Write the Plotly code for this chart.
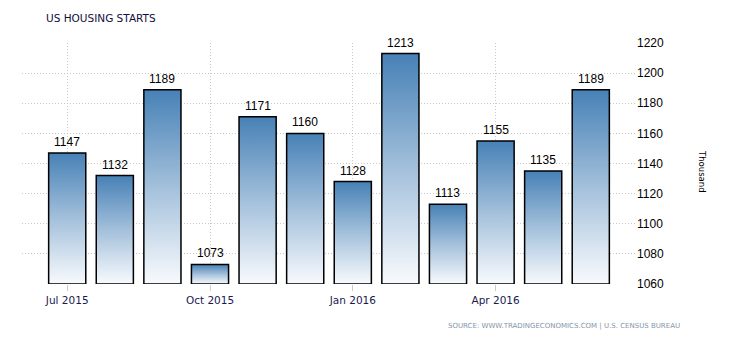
import plotly.graph_objects as go

months = ["Jul 2015", "Aug 2015", "Sep 2015", "Oct 2015", "Nov 2015", "Dec 2015",
          "Jan 2016", "Feb 2016", "Mar 2016", "Apr 2016", "May 2016", "Jun 2016"]
starts = [1147, 1132, 1189, 1073, 1171, 1160, 1128, 1213, 1113, 1155, 1135, 1189]
x_tick_labels = ["Jul 2015", "Oct 2015", "Jan 2016", "Apr 2016"]
y_ticks = [1060, 1080, 1100, 1120, 1140, 1160, 1180, 1200, 1220]

Y_BASE = y_ticks[0]
BAR_W = 0.78

fig = go.Figure()
idx = list(range(len(months)))
for i, v in zip(idx, starts):
    x0, x1 = i - BAR_W / 2, i + BAR_W / 2
    fig.add_trace(go.Scatter(
        x=[x0, x0, x1, x1, x0], y=[Y_BASE, v, v, Y_BASE, Y_BASE],
        mode="lines", fill="toself",
        fillgradient=dict(type="vertical",
                          colorscale=[[0, "#f8fafd"], [0.5, "#a3c0db"], [1, "#4781b6"]]),
        line=dict(color="#000000", width=1.5),
        hoverinfo="skip", showlegend=False,
    ))

tick_vals = [months.index(m) for m in x_tick_labels]

annotations = [
    dict(x=i, y=v, text=str(v), xref="x", yref="y", showarrow=False,
         yanchor="middle", yshift=11,
         font=dict(family="Liberation Sans, Arial", size=12, color="#000000"))
    for i, v in zip(idx, starts)
]
annotations += [
    dict(text="US HOUSING STARTS", xref="paper", yref="paper", x=(44 - 22) / 614,
         y=1 + (43 - 18) / 241, xanchor="left", yanchor="middle", showarrow=False,
         font=dict(family="DejaVu Sans", size=10.5, color="#101040")),
    dict(text="Thousand", xref="paper", yref="paper", x=1 + (702 - 636) / 614,
         y=(284 - 171) / 241,
         textangle=90, showarrow=False, xanchor="center", yanchor="middle",
         font=dict(family="DejaVu Sans", size=8.5, color="#000000")),
    dict(text="SOURCE: WWW.TRADINGECONOMICS.COM | U.S. CENSUS BUREAU", xref="paper", yref="paper",
         x=1 + (682 - 636) / 614, y=-(326 - 284) / 241, xanchor="right", yanchor="middle",
         showarrow=False, font=dict(family="DejaVu Sans", size=7, color="#8595a8")),
]

fig.update_layout(
    width=730, height=340,
    margin=dict(l=22, r=94, t=43, b=56),
    plot_bgcolor="white", paper_bgcolor="white",
    xaxis=dict(
        range=[-0.95, 11.95], tickmode="array", tickvals=tick_vals, ticktext=x_tick_labels,
        showgrid=True, gridcolor="#c8c8c8", griddash="1px,2px", gridwidth=1,
        ticks="outside", ticklen=6, tickcolor="#cccccc",
        tickfont=dict(family="DejaVu Sans", size=10.5, color="#1a1a50"),
        zeroline=False, showline=False,
    ),
    yaxis=dict(
        range=[1060, 1220], side="right", tickmode="array", tickvals=y_ticks,
        showgrid=True, gridcolor="#c8c8c8", griddash="1px,2px", gridwidth=1,
        ticks="", tickfont=dict(family="Liberation Sans, Arial", size=12, color="#000000"),
        zeroline=False, showline=False,
    ),
    annotations=annotations,
)

fig.write_html("out.html")
